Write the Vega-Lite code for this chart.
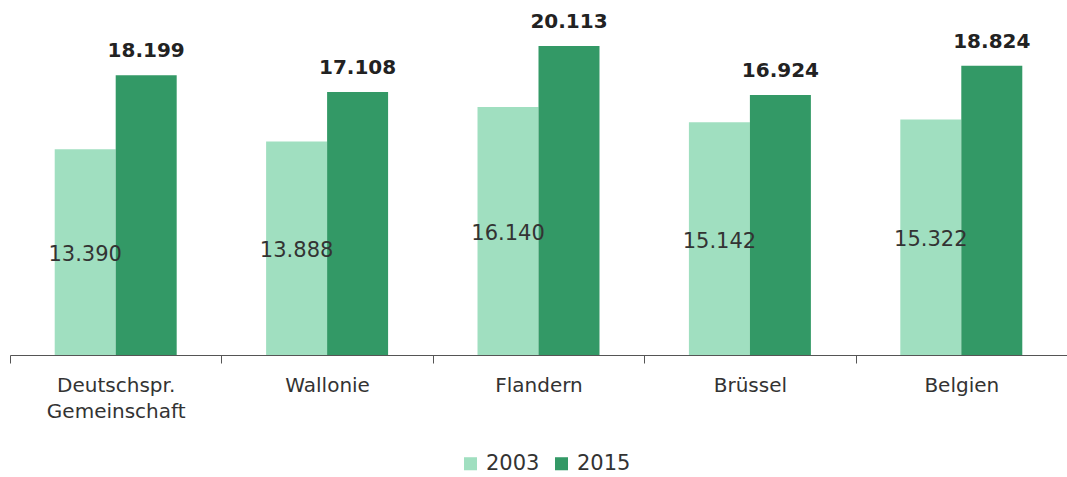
{
  "$schema": "https://vega.github.io/schema/vega-lite/v6.json",
  "width": 1057,
  "height": 355,
  "autosize": {"type": "none"},
  "padding": {"left": 10, "top": 0, "right": 0, "bottom": 122},
  "background": "white",
  "config": {"view": {"stroke": null}, "font": "DejaVu Sans"},
  "data": {
    "values": [
      {"region": "Deutschspr. Gemeinschaft", "year": "2003", "value": 13.390, "label": "13.390"},
      {"region": "Deutschspr. Gemeinschaft", "year": "2015", "value": 18.199, "label": "18.199"},
      {"region": "Wallonie", "year": "2003", "value": 13.888, "label": "13.888"},
      {"region": "Wallonie", "year": "2015", "value": 17.108, "label": "17.108"},
      {"region": "Flandern", "year": "2003", "value": 16.140, "label": "16.140"},
      {"region": "Flandern", "year": "2015", "value": 20.113, "label": "20.113"},
      {"region": "Brüssel", "year": "2003", "value": 15.142, "label": "15.142"},
      {"region": "Brüssel", "year": "2015", "value": 16.924, "label": "16.924"},
      {"region": "Belgien", "year": "2003", "value": 15.322, "label": "15.322"},
      {"region": "Belgien", "year": "2015", "value": 18.824, "label": "18.824"}
    ]
  },
  "encoding": {
    "x": {
      "field": "region",
      "type": "nominal",
      "sort": null,
      "scale": {"paddingInner": 0, "paddingOuter": 0},
      "axis": {
        "title": null,
        "labelAngle": 0,
        "tickBand": "extent",
        "domainColor": "#555555",
        "tickColor": "#555555",
        "tickSize": 8,
        "labelFont": "DejaVu Sans",
        "labelFontSize": 20,
        "labelColor": "#333333",
        "labelPadding": 12,
        "labelLineHeight": 26,
        "labelExpr": "datum.value == 'Deutschspr. Gemeinschaft' ? ['Deutschspr.', 'Gemeinschaft'] : datum.label"
      }
    },
    "xOffset": {"field": "year", "type": "nominal", "scale": {"paddingInner": 0, "paddingOuter": 0.733}}
  },
  "layer": [
    {
      "mark": {"type": "bar"},
      "encoding": {
        "y": {"field": "value", "type": "quantitative", "scale": {"domain": [0, 23.1], "nice": false, "zero": true}, "axis": null},
        "color": {
          "field": "year",
          "type": "nominal",
          "scale": {"domain": ["2003", "2015"], "range": ["#a0dfc0", "#339966"]},
          "legend": {
            "title": null,
            "orient": "none",
            "legendX": 450,
            "legendY": 453,
            "direction": "horizontal",
            "symbolType": "square",
            "symbolSize": 170,
            "symbolStrokeWidth": 0,
            "labelFont": "DejaVu Sans",
            "labelFontSize": 21,
            "labelColor": "#333333",
            "labelOffset": 5,
            "columnPadding": 11
          }
        }
      }
    },
    {
      "transform": [{"filter": "datum.year == '2015'"}],
      "mark": {"type": "text", "baseline": "alphabetic", "dy": -18, "fontSize": 20, "fontWeight": "bold", "color": "#222222", "font": "DejaVu Sans"},
      "encoding": {
        "y": {"field": "value", "type": "quantitative", "scale": {"domain": [0, 23.1], "nice": false}},
        "text": {"field": "label"}
      }
    },
    {
      "transform": [{"filter": "datum.year == '2003'"}, {"calculate": "datum.value / 2", "as": "mid"}],
      "mark": {"type": "text", "baseline": "middle", "dy": 3, "fontSize": 21, "color": "#333333", "font": "DejaVu Sans"},
      "encoding": {
        "y": {"field": "mid", "type": "quantitative", "scale": {"domain": [0, 23.1], "nice": false}},
        "text": {"field": "label"}
      }
    }
  ]
}
